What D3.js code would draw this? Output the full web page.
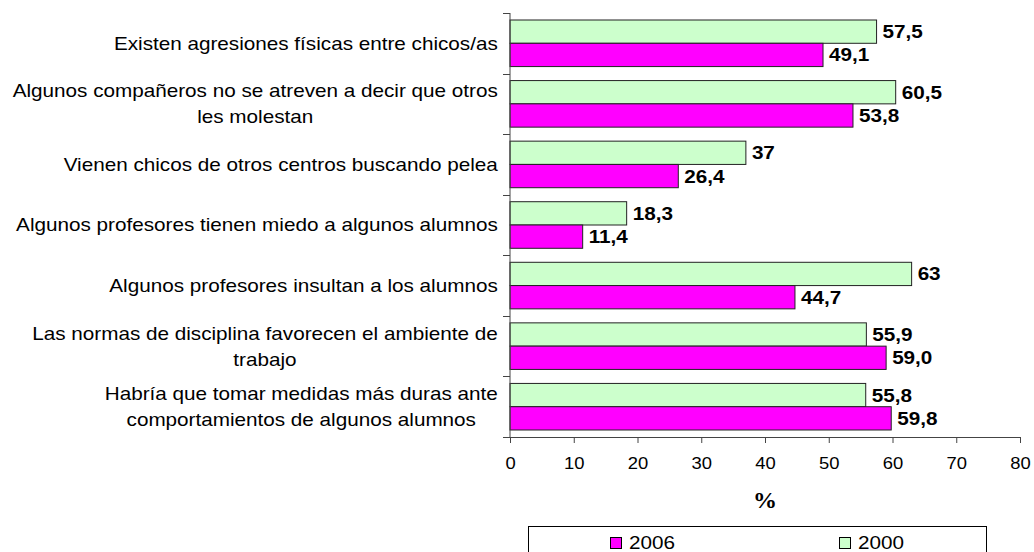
<!DOCTYPE html>
<html>
<head>
<meta charset="utf-8">
<script src="https://cdn.jsdelivr.net/npm/d3@7"></script>
<style>
  html, body { margin: 0; padding: 0; background: #fff; }
  svg { display: block; font-family: 'Liberation Sans', Arial, sans-serif; }
</style>
</head>
<body>
<div id="chart"></div>
<script>
// categories, top to bottom (each entry = lines of the label)
const categories = [
  ['Existen agresiones físicas entre chicos/as'],
  ['Algunos compañeros no se atreven a decir que otros', 'les molestan'],
  ['Vienen chicos de otros centros buscando pelea'],
  ['Algunos profesores tienen miedo a algunos alumnos'],
  ['Algunos profesores insultan a los alumnos'],
  ['Las normas de disciplina favorecen el ambiente de', 'trabajo'],
  ['Habría que tomar medidas más duras ante', 'comportamientos de algunos alumnos']
];
const values2000 = [57.5, 60.5, 37, 18.3, 63, 55.9, 55.8];
const values2006 = [49.1, 53.8, 26.4, 11.4, 44.7, 59.0, 59.8];
const seriesNames = ['2000', '2006'];
const legendOrder = ['2006', '2000'];
const xTicks = [0, 10, 20, 30, 40, 50, 60, 70, 80];
const axisTitle = '%';

const colors = { '2000': '#CCFFCC', '2006': '#FF00FF' };
const fmt = {
  '2000': v => String(v).replace('.', ','),
  '2006': v => d3.format('.1f')(v).replace('.', ',')
};

const W = 1034, H = 552;
const SX = 1.15; // the reference text is a bit wider than plain Arial
const margin = { top: 13, left: 510, right: 14, bottom: 115 };
const plotW = W - margin.left - margin.right;
const plotH = H - margin.top - margin.bottom;

const svg = d3.select('#chart').append('svg')
  .attr('width', W).attr('height', H);

const g = svg.append('g')
  .attr('transform', 'translate(' + margin.left + ',' + margin.top + ')');

const xScale = d3.scaleLinear().domain([0, 80]).range([0, plotW]);
const yScale = d3.scaleBand().domain(d3.range(categories.length)).range([0, plotH]);
const inset = 7;
const ySub = d3.scaleBand().domain(seriesNames)
  .range([inset, yScale.bandwidth() - inset]);

function stretched(sel, x, y) {
  return sel.attr('transform', 'translate(' + x + ',' + y + ') scale(' + SX + ',1)');
}

const data = categories.map((c, i) => ({
  i: i, lines: c,
  vals: [{ s: '2000', v: values2000[i] }, { s: '2006', v: values2006[i] }]
}));

// bars
const groups = g.selectAll('.cat').data(data).enter().append('g')
  .attr('class', 'cat')
  .attr('transform', d => 'translate(0,' + yScale(d.i) + ')');

groups.selectAll('rect').data(d => d.vals).enter().append('rect')
  .attr('x', 0)
  .attr('y', d => ySub(d.s))
  .attr('width', d => xScale(d.v))
  .attr('height', ySub.bandwidth())
  .attr('fill', d => colors[d.s])
  .attr('stroke', '#222')
  .attr('stroke-width', 1);

// value labels
groups.selectAll('text.val').data(d => d.vals).enter().append('text')
  .attr('class', 'val')
  .each(function (d) {
    stretched(d3.select(this), xScale(d.v) + 6, ySub(d.s) + ySub.bandwidth() / 2);
  })
  .attr('dy', '0.36em')
  .attr('font-size', 18)
  .attr('font-weight', 'bold')
  .attr('fill', '#000')
  .text(d => fmt[d.s](d.v));

// x axis
const xAxis = g.append('g')
  .attr('transform', 'translate(0,' + plotH + ')')
  .call(d3.axisBottom(xScale).tickValues(xTicks).tickSize(6).tickSizeOuter(0));
xAxis.select('.domain').attr('stroke', '#444');
xAxis.selectAll('.tick line').attr('stroke', '#444');
xAxis.selectAll('.tick text')
  .attr('font-size', 16).attr('font-family', 'Liberation Sans, Arial, sans-serif')
  .attr('fill', '#000')
  .attr('y', 0).attr('dy', 0)
  .attr('transform', 'translate(0,32) scale(' + SX + ',1)');

// y axis: line plus ticks at the category boundaries
g.append('line')
  .attr('x1', 0).attr('x2', 0).attr('y1', 0).attr('y2', plotH)
  .attr('stroke', '#444');
g.selectAll('.ytick').data(d3.range(categories.length + 1)).enter().append('line')
  .attr('class', 'ytick')
  .attr('x1', -7).attr('x2', 0)
  .attr('y1', d => Math.round(d * yScale.step()) + 0.5)
  .attr('y2', d => Math.round(d * yScale.step()) + 0.5)
  .attr('stroke', '#444');

// category labels: block right-aligned, lines centered inside block
const lineH = 26;
groups.each(function (d) {
  const grp = d3.select(this);
  const lab = grp.append('g');
  const texts = lab.selectAll('text').data(d.lines).enter().append('text')
    .attr('font-size', 18)
    .attr('fill', '#000')
    .attr('text-anchor', 'middle')
    .attr('dy', '0.36em')
    .text(t => t);
  const widths = [];
  texts.each(function () { widths.push(this.getComputedTextLength() * SX); });
  const blockW = d3.max(widths);
  const cx = -12 - blockW / 2;
  const cy = yScale.bandwidth() / 2;
  const n = d.lines.length;
  texts.each(function (t, k) {
    stretched(d3.select(this), cx, cy + (k - (n - 1) / 2) * lineH);
  });
});

// axis title
svg.append('text')
  .attr('x', margin.left + plotW / 2).attr('y', 508)
  .attr('text-anchor', 'middle')
  .attr('font-family', 'Liberation Serif, Times New Roman, serif')
  .attr('font-weight', 'bold')
  .attr('font-size', 24)
  .text(axisTitle);

// legend
const legX = 528, legW = 458, legY = 526;
svg.append('rect')
  .attr('x', legX + 0.5).attr('y', legY + 0.5)
  .attr('width', legW).attr('height', 40)
  .attr('fill', '#fff').attr('stroke', '#000');

const legItems = svg.selectAll('.leg').data(legendOrder).enter().append('g')
  .attr('class', 'leg');
legItems.each(function (s, k) {
  const it = d3.select(this);
  const txt = it.append('text')
    .attr('font-size', 18).attr('fill', '#000')
    .attr('dy', '0.36em')
    .text(s);
  const tw = txt.node().getComputedTextLength() * SX;
  const itemW = 12 + 7 + tw;
  const cx = legX + legW / 4 + k * legW / 2;
  const x0 = cx - itemW / 2;
  it.append('rect')
    .attr('x', Math.round(x0) + 0.5).attr('y', 537.5)
    .attr('width', 11).attr('height', 11)
    .attr('fill', colors[s]).attr('stroke', '#000');
  stretched(txt, x0 + 19, 543);
});
</script>
</body>
</html>
